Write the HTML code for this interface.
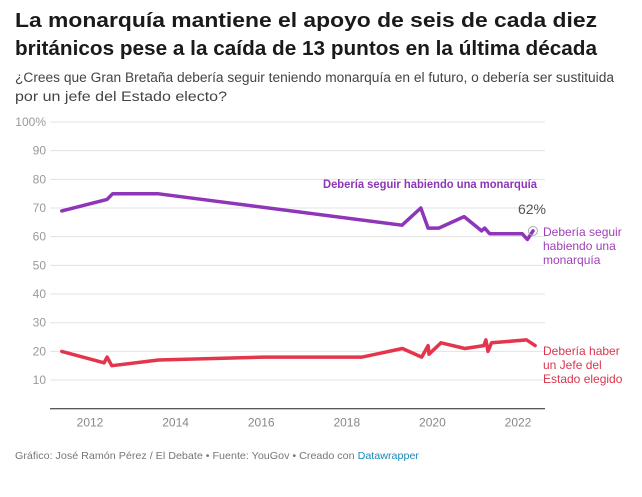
<!DOCTYPE html>
<html><head><meta charset="utf-8"><style>
body{margin:0;background:#fff;}
svg{display:block;font-family:"Liberation Sans",sans-serif;}
</style></head><body>
<svg id="chart" width="642" height="497" viewBox="0 0 642 497" xmlns="http://www.w3.org/2000/svg">
<text x="15" y="27" font-size="20.5" font-weight="bold" fill="#1a1a1a" textLength="582" lengthAdjust="spacingAndGlyphs">La monarquía mantiene el apoyo de seis de cada diez</text>
<text x="15" y="55" font-size="20.5" font-weight="bold" fill="#1a1a1a" textLength="582" lengthAdjust="spacingAndGlyphs">británicos pese a la caída de 13 puntos en la última década</text>
<text x="15" y="82" font-size="13.5" fill="#444" textLength="599" lengthAdjust="spacingAndGlyphs">¿Crees que Gran Bretaña debería seguir teniendo monarquía en el futuro, o debería ser sustituida</text>
<text x="15" y="101" font-size="13.5" fill="#444" textLength="212" lengthAdjust="spacingAndGlyphs">por un jefe del Estado electo?</text>
<g id="grid"></g>
<g id="series"></g>
<text x="323" y="188" font-size="12" font-weight="bold" fill="#8e35b8" textLength="214" lengthAdjust="spacingAndGlyphs">Debería seguir habiendo una monarquía</text>
<text x="532" y="214" font-size="14" fill="#555" text-anchor="middle">62%</text>
<g font-size="12" fill="#a040b8">
<text x="543" y="236">Debería seguir</text><text x="543" y="250">habiendo una</text><text x="543" y="264">monarquía</text></g>
<g font-size="12" fill="#d9364d">
<text x="543" y="355">Debería haber</text><text x="543" y="369">un Jefe del</text><text x="543" y="383">Estado elegido</text></g>
<text x="15" y="459" font-size="10.5" fill="#777" textLength="404" lengthAdjust="spacingAndGlyphs">Gráfico: José Ramón Pérez / El Debate • Fuente: YouGov • Creado con <tspan fill="#1a8ab8">Datawrapper</tspan></text>
</svg>
<script>
const yTicks=[10,20,30,40,50,60,70,80,90,100];
const xTicks=[2012,2014,2016,2018,2020,2022];
const monYears=[2011.34,2012.4,2012.53,2013.58,2019.29,2019.73,2019.9,2020.15,2020.74,2021.15,2021.22,2021.34,2022.1,2022.22,2022.35];
const monVals=[69,73,75,75,64,70,63,63,67,62,63,61,61,59,62];
const repYears=[2011.34,2012.33,2012.4,2012.51,2013.6,2016.05,2018.36,2019.3,2019.75,2019.9,2019.92,2020.2,2020.76,2021.2,2021.25,2021.3,2021.38,2022.2,2022.4];
const repVals=[20,16,18,15,17,18,18,21,18,22,19,23,21,22,24,20,23,24,22];
const NS="http://www.w3.org/2000/svg";
const x=v=>90+(v-2012)*42.8;
const y=v=>408.7-v*2.867;
const grid=document.getElementById('grid'),ser=document.getElementById('series');
function mk(tag,attrs,parent){const e=document.createElementNS(NS,tag);for(const k in attrs)e.setAttribute(k,attrs[k]);parent.appendChild(e);return e;}
yTicks.forEach(t=>{
 const l=mk('line',{x1:50,x2:545,y1:y(t),y2:y(t),stroke:'#e3e3e3','stroke-width':1},grid);
 
 
 const tx=mk('text',{x:46,y:y(t)+4,'text-anchor':'end','font-size':12,fill:'#999'},grid);
 tx.textContent=t===100?'100%':String(t);
 
 
});
const base=mk('line',{x1:50,x2:545,y1:y(0),y2:y(0),stroke:'#222','stroke-width':1},grid);


xTicks.forEach(t=>{
 const tx=mk('text',{x:x(t),y:y(0)+18,'text-anchor':'middle','font-size':12,fill:'#888'},grid);
 tx.textContent=String(t);
 
 
});
function line(xs,vs,color,name){
 const d=xs.map((v,i)=>(i?'L':'M')+x(v).toFixed(1)+','+y(vs[i]).toFixed(1)).join('');
 const p=mk('path',{d:d,fill:'none',stroke:color,'stroke-width':3.5,'stroke-linejoin':'round','stroke-linecap':'round'},ser);
 
 
}
line(monYears,monVals,'#8e35b8','line-monarchy');
line(repYears,repVals,'#e3364d','line-elected-head');
const li=monYears.length-1;
const c=mk('circle',{cx:x(monYears[li]),cy:y(monVals[li]),r:4.5,fill:'none',stroke:'#aaa','stroke-width':1},ser);


</script>
</body></html>
